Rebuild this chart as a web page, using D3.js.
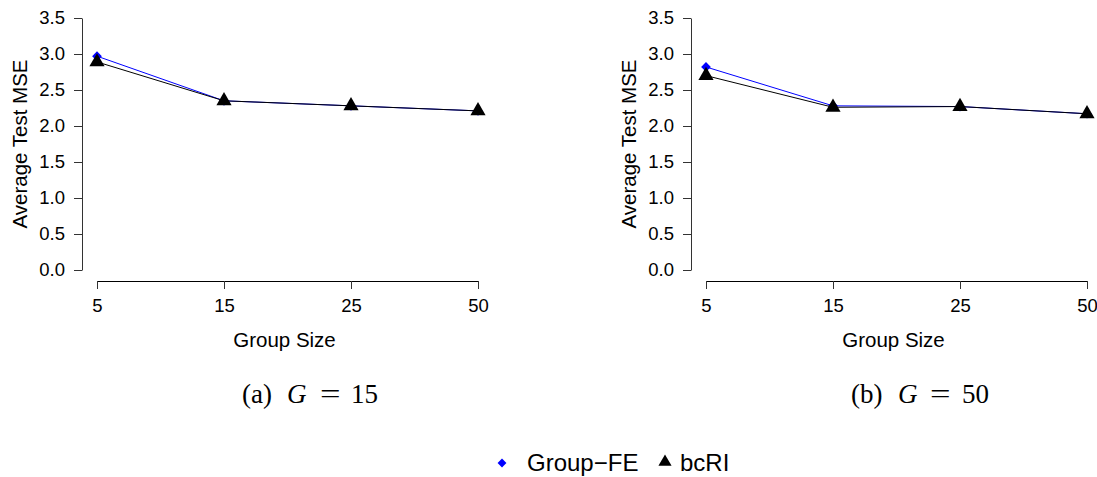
<!DOCTYPE html>
<html>
<head>
<meta charset="utf-8">
<script src="https://cdn.jsdelivr.net/npm/d3@7"></script>
<style>
  html, body { margin: 0; padding: 0; background: #fff; }
  svg { display: block; font-family: "Liberation Sans", Arial, Helvetica, sans-serif; }
</style>
</head>
<body>
<svg id="chart" width="1097" height="477"></svg>
<script>
// ---- data ----
const groupSizes = ["5", "15", "25", "50"];
const yTicks = [0, 0.5, 1, 1.5, 2, 2.5, 3, 3.5];
const seriesNames = ["Group\u2212FE", "bcRI"];
const panelA_groupFE = [2.97, 2.35, 2.28, 2.21];
const panelA_bcRI    = [2.89, 2.35, 2.28, 2.21];
const panelB_groupFE = [2.82, 2.28, 2.27, 2.17];
const panelB_bcRI    = [2.70, 2.26, 2.27, 2.17];
const captions = [["(a)", "G", "=", "15"], ["(b)", "G", "=", "50"]];

const svg = d3.select("#chart");
const colors = { fe: "#0000ff", bc: "#000000" };
const SANS = "Liberation Sans, Arial, sans-serif";
const SERIF = "Liberation Serif, 'Times New Roman', serif";

function panel(cfg) {
  const g = svg.append("g");
  const x = d3.scalePoint().domain(groupSizes).range([cfg.x0, cfg.x1]);
  const y = d3.scaleLinear().domain([0, 3.5]).range([270, 18]);

  // y axis
  const ya = g.append("g")
    .attr("transform", `translate(${cfg.yAxisX},0)`)
    .call(d3.axisLeft(y).tickValues(yTicks).tickFormat(d3.format(".1f"))
      .tickSizeOuter(0).tickSizeInner(8).tickPadding(9));
  ya.select(".domain").attr("stroke", "#333");
  ya.selectAll(".tick line").attr("stroke", "#333");
  ya.selectAll("text").attr("font-size", 18.5).attr("fill", "#000").attr("font-family", SANS);

  // x axis
  const xa = g.append("g")
    .attr("transform", `translate(0,281)`)
    .call(d3.axisBottom(x).tickSizeOuter(0).tickSizeInner(8).tickPadding(10));
  xa.select(".domain").attr("stroke", "#000");
  xa.selectAll(".tick line").attr("stroke", "#333");
  xa.selectAll("text").attr("font-size", 18.5).attr("fill", "#000").attr("font-family", SANS);

  // axis titles
  g.append("text")
    .attr("x", (cfg.x0 + cfg.x1) / 2 - 3).attr("y", 347)
    .attr("text-anchor", "middle").attr("font-size", 20.5).attr("font-family", SANS)
    .text("Group Size");
  g.append("text")
    .attr("transform", `translate(${cfg.yLabelX},144) rotate(-90)`)
    .attr("text-anchor", "middle").attr("font-size", 20.5).attr("font-family", SANS)
    .text("Average Test MSE");

  const line = d3.line().x((d, i) => x(groupSizes[i])).y(d => y(d));

  // Group-FE
  g.append("path").datum(cfg.fe).attr("d", line)
    .attr("fill", "none").attr("stroke", colors.fe).attr("stroke-width", 1);
  g.selectAll(".fe").data(cfg.fe).enter().append("path")
    .attr("d", d3.symbol().type(d3.symbolDiamond2).size(60))
    .attr("transform", (d, i) => `translate(${x(groupSizes[i])},${y(d)})`)
    .attr("fill", colors.fe);

  // bcRI
  g.append("path").datum(cfg.bc).attr("d", line)
    .attr("fill", "none").attr("stroke", colors.bc).attr("stroke-width", 1);
  g.selectAll(".bc").data(cfg.bc).enter().append("path")
    .attr("d", d3.symbol().type(d3.symbolTriangle).size(100))
    .attr("transform", (d, i) => `translate(${x(groupSizes[i])},${y(d)})`)
    .attr("fill", colors.bc);

  // caption
  const cap = cfg.caption;
  const base = 403;
  g.append("text").attr("x", cfg.capX[0]).attr("y", base)
    .attr("font-family", SERIF).attr("font-size", 27).text(cap[0]);
  g.append("text").attr("x", cfg.capX[1]).attr("y", base)
    .attr("font-family", SERIF).attr("font-size", 27).attr("font-style", "italic").text(cap[1]);
  g.append("text").attr("transform", `translate(${cfg.capX[2]},${base}) scale(1.35,1)`)
    .attr("font-family", SERIF).attr("font-size", 27).text(cap[2]);
  g.append("text").attr("x", cfg.capX[3]).attr("y", base)
    .attr("font-family", SERIF).attr("font-size", 27).text(cap[3]);
}

panel({ x0: 97, x1: 478, yAxisX: 82, yLabelX: 27, fe: panelA_groupFE, bc: panelA_bcRI,
        caption: captions[0], capX: [242, 287, 320, 351] });
panel({ x0: 706, x1: 1087, yAxisX: 691, yLabelX: 636, fe: panelB_groupFE, bc: panelB_bcRI,
        caption: captions[1], capX: [851, 898, 930, 962] });

// legend
const lg = svg.append("g");
lg.append("path").attr("d", d3.symbol().type(d3.symbolDiamond2).size(50))
  .attr("transform", "translate(502,463)").attr("fill", colors.fe);
lg.append("text").attr("x", 527).attr("y", 471).attr("font-size", 24).attr("font-family", SANS)
  .text(seriesNames[0]);
lg.append("path").attr("d", d3.symbol().type(d3.symbolTriangle).size(75))
  .attr("transform", "translate(665,462)").attr("fill", colors.bc);
lg.append("text").attr("x", 680).attr("y", 471).attr("font-size", 24).attr("font-family", SANS)
  .text(seriesNames[1]);
</script>
</body>
</html>
